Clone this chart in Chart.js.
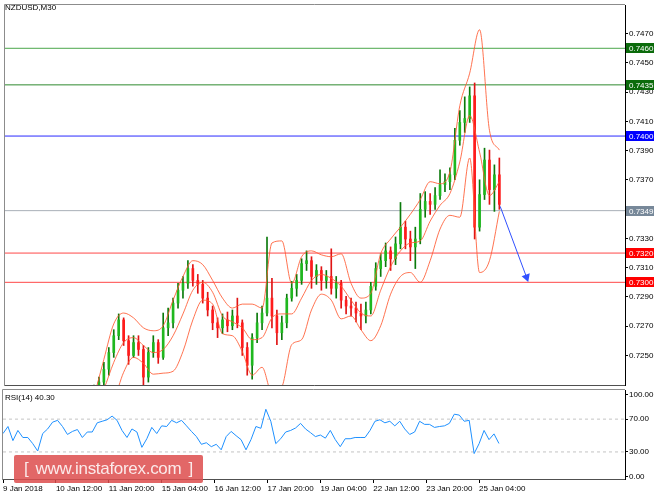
<!DOCTYPE html>
<html lang="en">
<head>
<meta charset="utf-8">
<title>NZDUSD,M30</title>
<script src="https://cdn.jsdelivr.net/npm/chart.js@4.4.1/dist/chart.umd.min.js"></script>
<style>
  html, body { margin: 0; padding: 0; background: #ffffff; }
  #wrap { position: relative; width: 664px; height: 498px; overflow: hidden; font-family: "Liberation Sans", Arial, sans-serif; }
  canvas { position: absolute; left: 0; }
  #priceChart { top: 0; }
  #rsiChart { top: 389px; }
  .caption { position: absolute; font-size: 8px; line-height: 10px; color: #000; white-space: nowrap; }
  #watermark {
    position: absolute; left: 14px; top: 455px; width: 189px; height: 28px;
    box-sizing: border-box; padding: 0 10px; display: flex; justify-content: space-between; align-items: center;
    background: rgba(221, 78, 78, 0.86); border-radius: 2px; color: #fbeaea;
    font-size: 17px; letter-spacing: -0.3px;
  }
</style>
</head>
<body>
<div id="wrap">
  <canvas id="priceChart" width="664" height="390"></canvas>
  <canvas id="rsiChart" width="664" height="109"></canvas>
  <div class="caption" style="left:5px; top:3px;">NZDUSD,M30</div>
  <div class="caption" style="left:5px; top:393px;">RSI(14) 40.30</div>
  <div id="watermark"><span>[</span><span>www.instaforex.com</span><span>]</span></div>
</div>
<script>
// time axis: bar numbers (M30 bars) and the labels MT4 puts under them
const timeTicks = [0, 64, 128, 192, 256, 320, 384, 448, 512, 576];
const timeLabels = ["9 Jan 2018", "10 Jan 12:00", "11 Jan 20:00", "15 Jan 04:00", "16 Jan 12:00",
  "17 Jan 20:00", "19 Jan 04:00", "22 Jan 12:00", "23 Jan 20:00", "25 Jan 04:00"];
const barsInView = 752.5;

// price axis
const priceMin = 0.72298, priceMax = 0.74896;
const priceTicks = [0.7250, 0.7270, 0.7290, 0.7310, 0.7330, 0.7350, 0.7370, 0.7390, 0.7410, 0.7430, 0.7450, 0.7470];

// candles (one candle per 6 bars)
const firstCandleBar = 108, barsPerCandle = 6;
const candleOpen = [
  0.72230, 0.72251, 0.72318, 0.72406, 0.72520, 0.72635, 0.72743, 0.72601, 0.72500, 0.72588,
  0.72541, 0.72352, 0.72520, 0.72588, 0.72487, 0.72689, 0.72723, 0.72858, 0.72946, 0.72993,
  0.73094, 0.73013, 0.72986, 0.72892, 0.72811, 0.72723, 0.72689, 0.72743, 0.72703, 0.72770,
  0.72723, 0.72554, 0.72433, 0.72622, 0.72723, 0.72790, 0.72892, 0.72770, 0.72655, 0.72723,
  0.72892, 0.72959, 0.73013, 0.73128, 0.73148, 0.73040, 0.73081, 0.73013, 0.73040, 0.72959,
  0.72993, 0.72878, 0.72838, 0.72824, 0.72790, 0.72770, 0.72811, 0.72973, 0.73094, 0.73148,
  0.73215, 0.73161, 0.73263, 0.73377, 0.73296, 0.73242, 0.73296, 0.73499, 0.73553, 0.73533,
  0.73593, 0.73668, 0.73688, 0.73735, 0.73971, 0.74093, 0.74120, 0.74275, 0.73377, 0.73600,
  0.73836, 0.73634, 0.73735];
const candleHigh = [
  0.72298, 0.72352, 0.72453, 0.72554, 0.72676, 0.72784, 0.72757, 0.72635, 0.72635, 0.72635,
  0.72568, 0.72554, 0.72635, 0.72608, 0.72790, 0.72824, 0.72892, 0.72993, 0.73040, 0.73148,
  0.73121, 0.73054, 0.73013, 0.72932, 0.72838, 0.72757, 0.72784, 0.72797, 0.72811, 0.72892,
  0.72743, 0.72588, 0.72649, 0.72790, 0.72838, 0.73310, 0.73027, 0.72811, 0.72770, 0.72919,
  0.73006, 0.73054, 0.73161, 0.73215, 0.73175, 0.73121, 0.73107, 0.73081, 0.73229, 0.73040,
  0.73013, 0.72905, 0.72892, 0.72865, 0.72851, 0.72865, 0.73000, 0.73134, 0.73195, 0.73269,
  0.73242, 0.73310, 0.73546, 0.73418, 0.73350, 0.73377, 0.73607, 0.73620, 0.73607, 0.73647,
  0.73769, 0.73742, 0.73782, 0.74052, 0.74174, 0.74268, 0.74336, 0.74363, 0.73701, 0.73917,
  0.73904, 0.73803, 0.73850];
const candleLow = [
  0.72217, 0.72230, 0.72298, 0.72365, 0.72487, 0.72608, 0.72568, 0.72439, 0.72487, 0.72500,
  0.72271, 0.72318, 0.72487, 0.72446, 0.72473, 0.72635, 0.72689, 0.72824, 0.72892, 0.72959,
  0.72973, 0.72925, 0.72858, 0.72770, 0.72676, 0.72622, 0.72649, 0.72662, 0.72676, 0.72689,
  0.72500, 0.72365, 0.72338, 0.72588, 0.72676, 0.72770, 0.72689, 0.72574, 0.72608, 0.72689,
  0.72871, 0.72905, 0.72986, 0.73081, 0.72959, 0.72986, 0.72946, 0.72959, 0.72919, 0.72892,
  0.72824, 0.72784, 0.72770, 0.72730, 0.72676, 0.72723, 0.72784, 0.72946, 0.73040, 0.73107,
  0.73081, 0.73121, 0.73229, 0.73229, 0.73148, 0.73094, 0.73263, 0.73445, 0.73465, 0.73499,
  0.73566, 0.73620, 0.73634, 0.73701, 0.73937, 0.74025, 0.74093, 0.73296, 0.73350, 0.73566,
  0.73533, 0.73485, 0.73499];
const candleClose = [
  0.72251, 0.72318, 0.72406, 0.72520, 0.72635, 0.72743, 0.72601, 0.72500, 0.72588, 0.72541,
  0.72352, 0.72520, 0.72588, 0.72487, 0.72689, 0.72723, 0.72858, 0.72946, 0.72993, 0.73094,
  0.73013, 0.72986, 0.72892, 0.72811, 0.72723, 0.72689, 0.72743, 0.72703, 0.72770, 0.72723,
  0.72554, 0.72433, 0.72622, 0.72723, 0.72790, 0.72892, 0.72770, 0.72655, 0.72723, 0.72892,
  0.72959, 0.73013, 0.73128, 0.73148, 0.73040, 0.73081, 0.73013, 0.73040, 0.72959, 0.72993,
  0.72878, 0.72838, 0.72824, 0.72790, 0.72770, 0.72811, 0.72973, 0.73094, 0.73148, 0.73215,
  0.73161, 0.73263, 0.73377, 0.73296, 0.73242, 0.73296, 0.73499, 0.73553, 0.73533, 0.73593,
  0.73668, 0.73688, 0.73735, 0.73971, 0.74093, 0.74120, 0.74275, 0.73377, 0.73600, 0.73836,
  0.73634, 0.73735, 0.73533];

// Bollinger bands, read every 12 bars
const firstBandBar = 108, barsPerBandPoint = 12;
const bandUpper = [
  0.72217, 0.72473, 0.72716, 0.72790, 0.72757, 0.72689, 0.72669, 0.72703, 0.72878, 0.73040,
  0.73148, 0.73121, 0.73013, 0.72892, 0.72824, 0.72851, 0.72851, 0.72824, 0.73269, 0.73283,
  0.72993, 0.73175, 0.73215, 0.73188, 0.73175, 0.73195, 0.72993, 0.72892, 0.72925, 0.73195,
  0.73296, 0.73377, 0.73465, 0.73566, 0.73688, 0.73674, 0.73755, 0.74207, 0.74430, 0.74727,
  0.74039, 0.73904];
const bandMiddle = [
  0.72149, 0.72271, 0.72453, 0.72588, 0.72622, 0.72568, 0.72520, 0.72541, 0.72635, 0.72784,
  0.72946, 0.73000, 0.72932, 0.72770, 0.72730, 0.72689, 0.72608, 0.72622, 0.72757, 0.72784,
  0.72784, 0.72892, 0.73013, 0.73054, 0.73027, 0.72973, 0.72878, 0.72790, 0.72770, 0.72946,
  0.73107, 0.73215, 0.73269, 0.73283, 0.73418, 0.73526, 0.73607, 0.73823, 0.74140, 0.73890,
  0.73593, 0.73688];
const bandLower = [
  0.72082, 0.72082, 0.72190, 0.72385, 0.72487, 0.72446, 0.72372, 0.72379, 0.72392, 0.72527,
  0.72743, 0.72878, 0.72851, 0.72649, 0.72635, 0.72527, 0.72365, 0.72419, 0.72244, 0.72284,
  0.72574, 0.72608, 0.72811, 0.72919, 0.72878, 0.72750, 0.72770, 0.72676, 0.72601, 0.72703,
  0.72919, 0.73040, 0.73067, 0.73000, 0.73148, 0.73364, 0.73458, 0.73445, 0.73850, 0.73067,
  0.73148, 0.73485];

// horizontal levels and their axis tags
const levelPrices = [0.7460, 0.7435, 0.7400, 0.7349, 0.7320, 0.7300];
const levelLineColors = ["#4aa64a", "#2f8a2f", "#2a2aff", "#a9b0b8", "#ff4848", "#ff4848"];
const levelTagColors = ["#0b6b0b", "#0b6b0b", "#0000ff", "#778899", "#ff0000", "#ff0000"];

// forecast arrow
const arrowBars = [601, 633];
const arrowPrices = [0.73519, 0.73035];

// RSI(14), read every 6 bars
const barsPerRsiPoint = 6;
const rsiValues = [
  52.4, 61.0, 43.8, 56.2, 47.6, 47.6, 40.1, 31.1, 52.4, 58.0,
  66.3, 68.5, 61.0, 51.3, 55.0, 57.3, 47.6, 54.3, 54.3, 65.5,
  67.4, 69.2, 73.7, 68.5, 56.2, 47.6, 58.0, 54.3, 35.6, 46.1,
  59.9, 52.4, 61.8, 61.0, 68.5, 65.5, 68.5, 61.8, 55.0, 48.7,
  39.3, 41.2, 36.4, 39.3, 32.6, 48.7, 55.0, 49.8, 45.0, 32.6,
  45.0, 61.0, 58.8, 82.0, 67.4, 40.1, 46.1, 54.3, 56.2, 59.2,
  64.8, 58.0, 53.5, 48.7, 50.6, 46.8, 56.2, 45.0, 36.4, 46.1,
  46.1, 47.6, 47.6, 47.6, 56.2, 67.4, 69.2, 65.5, 67.4, 61.8,
  67.4, 58.0, 51.3, 54.3, 67.4, 63.6, 63.6, 59.9, 61.0, 61.8,
  64.8, 76.0, 74.9, 67.4, 68.5, 28.0, 40.1, 56.2, 45.0, 52.0,
  40.3];
const rsiLevels = [70, 30];
const rsiTicks = [0, 30, 70, 100];
const rsiMin = -3, rsiMax = 105.5;

Chart.defaults.font.family = "'Liberation Sans', Arial, sans-serif";
Chart.defaults.font.size = 8;
Chart.defaults.color = "#000";

// thin grey frame around each panel (MT4 style)
const panelFrame = {
  id: "panelFrame",
  afterDraw(chart) {
    const { ctx, chartArea: a } = chart;
    const l = Math.round(a.left) - 0.5, t = Math.round(a.top) - 0.5, b = Math.round(a.bottom) + 0.5;
    ctx.save();
    ctx.lineWidth = 1;
    ctx.strokeStyle = "#8c8c8c";
    ctx.beginPath(); ctx.moveTo(l, b); ctx.lineTo(l, t); ctx.lineTo(a.right, t); ctx.stroke();
    ctx.strokeStyle = "#505050";
    ctx.beginPath(); ctx.moveTo(l, b); ctx.lineTo(a.right, b); ctx.stroke();
    ctx.restore();
  }
};

// coloured price tags on the right axis for each level
const levelTags = {
  id: "levelTags",
  afterDraw(chart) {
    const { ctx } = chart;
    const y = chart.scales.y;
    ctx.save();
    ctx.font = "8px 'Liberation Sans', Arial, sans-serif";
    ctx.textBaseline = "middle";
    ctx.textAlign = "left";
    levelPrices.forEach((p, i) => {
      const py = Math.round(y.getPixelForValue(p));
      ctx.fillStyle = levelTagColors[i];
      ctx.fillRect(y.left + 1, py - 5, 28, 10);
      ctx.fillStyle = "#ffffff";
      ctx.fillText(p.toFixed(4), y.left + 4, py + 0.5);
    });
    ctx.restore();
  }
};

document.addEventListener("DOMContentLoaded", function () {
  const candleBars = candleOpen.map((o, i) => firstCandleBar + i * barsPerCandle);
  const rising = candleClose.map((c, i) => c >= candleOpen[i]);
  const bandBars = bandUpper.map((v, i) => firstBandBar + i * barsPerBandPoint);

  const bandSet = (values, order) => ({
    type: "line",
    data: values.map((v, i) => ({ x: bandBars[i], y: v })),
    borderColor: "rgba(255, 90, 50, 0.85)",
    borderWidth: 1,
    pointRadius: 0,
    cubicInterpolationMode: "monotone",
    order: order
  });

  const levelSets = levelPrices.map((p, i) => ({
    type: "line",
    data: [{ x: 0, y: p }, { x: barsInView, y: p }],
    borderColor: levelLineColors[i],
    borderWidth: 1,
    pointRadius: 0,
    order: 8
  }));

  new Chart(document.getElementById("priceChart"), {
    type: "bar",
    data: {
      datasets: [
        ...levelSets,
        {
          label: "wick",
          data: candleBars.map((x, i) => ({ x: x, y: [candleLow[i], candleHigh[i]] })),
          backgroundColor: rising.map(r => r ? "#0b7a0b" : "#e01414"),
          barThickness: 1,
          grouped: false,
          clip: 0,
          order: 6
        },
        {
          label: "body",
          data: candleBars.map((x, i) => ({ x: x, y: [candleOpen[i], candleClose[i]] })),
          backgroundColor: rising.map(r => r ? "#1fb81f" : "#ff1c1c"),
          barThickness: 2,
          minBarLength: 1,
          grouped: false,
          clip: 0,
          order: 5
        },
        bandSet(bandUpper, 3),
        bandSet(bandMiddle, 3),
        bandSet(bandLower, 3),
        {
          type: "line",
          label: "arrow",
          data: arrowBars.map((x, i) => ({ x: x, y: arrowPrices[i] })),
          borderColor: "#3050ff",
          borderWidth: 1,
          pointRadius: [0, 5],
          pointStyle: "triangle",
          pointRotation: [0, 160],
          pointBackgroundColor: "#3050ff",
          pointBorderWidth: 0,
          order: 1
        }
      ]
    },
    options: {
      responsive: false,
      animation: false,
      events: [],
      layout: { padding: { left: 3, top: 3, right: 0, bottom: 2 } },
      plugins: { legend: { display: false }, tooltip: { enabled: false } },
      scales: {
        x: { type: "linear", min: 0, max: barsInView, offset: false, display: false },
        y: {
          position: "right",
          min: priceMin,
          max: priceMax,
          beginAtZero: false,
          afterBuildTicks: s => { s.ticks = priceTicks.map(v => ({ value: v })); },
          afterFit: s => { s.width = 39; s.paddingTop = 0; s.paddingBottom = 0; },
          ticks: { callback: v => v.toFixed(4), padding: 1, autoSkip: false },
          grid: { drawOnChartArea: false, tickLength: 3, color: "#000" },
          border: { color: "#000", width: 1 }
        }
      }
    },
    plugins: [panelFrame, levelTags]
  });

  new Chart(document.getElementById("rsiChart"), {
    type: "line",
    data: {
      datasets: [
        ...rsiLevels.map(v => ({
          data: [{ x: 0, y: v }, { x: barsInView, y: v }],
          borderColor: "#c4c4c4",
          borderWidth: 1,
          borderDash: [3, 3],
          pointRadius: 0,
          order: 3
        })),
        {
          label: "RSI(14)",
          data: rsiValues.map((v, i) => ({ x: i * barsPerRsiPoint, y: v })),
          borderColor: "#1e90ff",
          borderWidth: 1,
          pointRadius: 0,
          order: 1
        }
      ]
    },
    options: {
      responsive: false,
      animation: false,
      events: [],
      layout: { padding: { left: 3, top: 1, right: 0, bottom: 0 } },
      plugins: { legend: { display: false }, tooltip: { enabled: false } },
      scales: {
        x: {
          type: "linear",
          min: 0,
          max: barsInView,
          afterBuildTicks: s => { s.ticks = timeTicks.map(v => ({ value: v })); },
          afterFit: s => { s.height = 19; s.paddingLeft = 0; s.paddingRight = 0; },
          ticks: { callback: (v, i) => timeLabels[i], autoSkip: false, maxRotation: 0, align: "start", padding: 1 },
          grid: { drawOnChartArea: false, tickLength: 4, color: "#000" },
          border: { color: "#505050", width: 1 }
        },
        y: {
          position: "right",
          min: rsiMin,
          max: rsiMax,
          afterBuildTicks: s => { s.ticks = rsiTicks.map(v => ({ value: v })); },
          afterFit: s => { s.width = 39; s.paddingTop = 0; s.paddingBottom = 0; },
          ticks: { callback: v => v.toFixed(2), padding: 1, autoSkip: false },
          grid: { drawOnChartArea: false, tickLength: 3, color: "#000" },
          border: { color: "#000", width: 1 }
        }
      }
    },
    plugins: [panelFrame]
  });
});
</script>
</body>
</html>
